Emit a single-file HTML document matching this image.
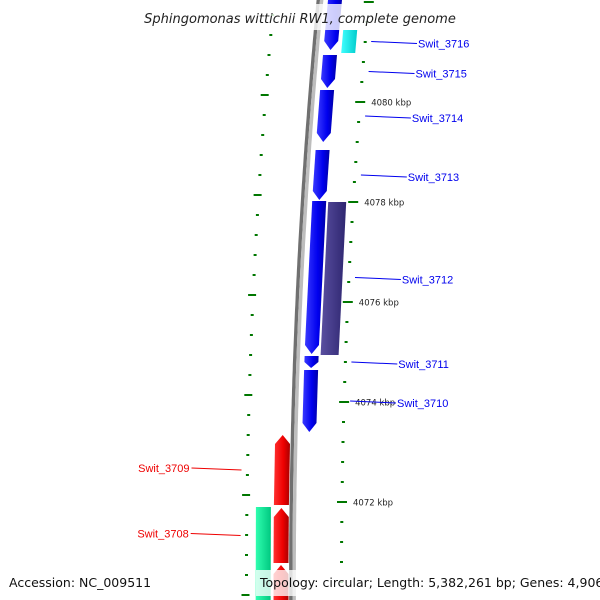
<!DOCTYPE html>
<html><head><meta charset="utf-8"><style>
html,body{margin:0;padding:0;background:#fff;}
svg{display:block;font-family:"Liberation Sans",sans-serif;}
</style></head><body>
<svg id="map" width="600" height="600" viewBox="0 0 600 600">
<defs>
<linearGradient id="gBlue" x1="0" x2="1"><stop offset="0" stop-color="#3a3aff"/><stop offset="0.6" stop-color="#0000ee"/><stop offset="1" stop-color="#0000a8"/></linearGradient>
<linearGradient id="gRed" x1="0" x2="1"><stop offset="0" stop-color="#ff3030"/><stop offset="0.6" stop-color="#ee0000"/><stop offset="1" stop-color="#a80000"/></linearGradient>
<linearGradient id="gCyan" x1="0" x2="1"><stop offset="0" stop-color="#40ffff"/><stop offset="1" stop-color="#00cccc"/></linearGradient>
<linearGradient id="gPurple" x1="0" x2="1"><stop offset="0" stop-color="#5a4fa0"/><stop offset="1" stop-color="#2e2670"/></linearGradient>
<linearGradient id="gGreen" x1="0" x2="1"><stop offset="0" stop-color="#30ffb0"/><stop offset="1" stop-color="#00c880"/></linearGradient>
</defs>
<g id="backbone"></g>
<g id="ticks"></g>
<g id="genes"></g>
<g id="labels"></g>
<rect x="134" y="4" width="332" height="26" fill="#fff" fill-opacity="0.8"/>
<text x="300" y="23" text-anchor="middle" font-size="13" font-style="italic" fill="#222" style="font-family:'DejaVu Sans',sans-serif">Sphingomonas wittichii RW1, complete genome</text>
<text x="9" y="587" font-size="12.5" fill="#111" style="font-family:'DejaVu Sans',sans-serif">Accession: NC_009511</text>
<rect x="256" y="570" width="340" height="26" fill="#fff" fill-opacity="0.78"/>
<text x="260" y="587" font-size="12.5" fill="#111" style="font-family:'DejaVu Sans',sans-serif">Topology: circular; Length: 5,382,261 bp; Genes: 4,906</text>
</svg>
<script>
// genome coordinates (kbp)
const majorTicks = [4082, 4080, 4078, 4076, 4074, 4072, 4070];
const majorTickLabels = ["", "4080 kbp", "4078 kbp", "4076 kbp", "4074 kbp", "4072 kbp", ""];
const geneNames = ["", "Swit_3715", "Swit_3714", "Swit_3713", "Swit_3712", "Swit_3711", "Swit_3710", "Swit_3716", "", "Swit_3709", "Swit_3708", "", ""];
const geneStarts = [4082.3, 4080.94, 4080.24, 4079.04, 4078.02, 4074.92, 4074.64, 4081.44, 4078.0, 4073.34, 4071.88, 4070.74, 4071.9];
const geneEnds   = [4081.04, 4080.28, 4079.2, 4078.04, 4074.96, 4074.68, 4073.4, 4080.98, 4074.94, 4071.94, 4070.78, 4069.6, 4069.6];
const geneTracks = ["blue","blue","blue","blue","blue","blue","blue","cyan","purple","red","red","red","green"];

const NS="http://www.w3.org/2000/svg";
function yOf(kbp){return 102+(4080-kbp)*50;}
function bx(y){return 320-0.095*y+0.000082*y*y;}
function pt(y,off){return (bx(y)+off).toFixed(1)+","+y.toFixed(1);}
const trackOff={blue:[8,22],cyan:[26,40],purple:[24,42],red:[-19,-4],green:[-37,-22]};
const trackFill={blue:"url(#gBlue)",cyan:"url(#gCyan)",purple:"url(#gPurple)",red:"url(#gRed)",green:"url(#gGreen)"};
const trackArrow={blue:"end",cyan:"none",purple:"none",red:"end",green:"none"};
const labelCol={blue:"#0000ee",cyan:"#0000ee",purple:"#0000ee",red:"#ee0000",green:"#ee0000"};

// backbone
const bb=document.getElementById('backbone');
[[-1.7,"#707070"],[1.7,"#bdbdbd"]].forEach((s,i)=>{
  let d="";for(let y=-5;y<=605;y+=5){d+=(y===-5?"M":"L")+pt(y,s[0]);}
  const p=document.createElementNS(NS,'path');
  p.setAttribute('d',d);p.setAttribute('fill','none');p.setAttribute('stroke',s[1]);p.setAttribute('stroke-width','3.4');
  
  
  bb.appendChild(p);
});

// ticks
const tg=document.getElementById('ticks');
function tick(y,o1,o2,w){
  const l=document.createElementNS(NS,'line');
  l.setAttribute('x1',(bx(y)+o1).toFixed(1));l.setAttribute('x2',(bx(y)+o2).toFixed(1));
  l.setAttribute('y1',y);l.setAttribute('y2',y);l.setAttribute('stroke','#007700');l.setAttribute('stroke-width',w);
  
  
  tg.appendChild(l);
}
for(let k=majorTicks[0]*10;k>=majorTicks[majorTicks.length-1]*10-10;k-=4){
  const kb=k/10, y=yOf(kb), isMaj=Math.abs(kb-Math.round(kb))<1e-6 && Math.round(kb)%2===0;
  if(y<-5||y>605) continue;
  if(isMaj){tick(y,44,54,2);tick(y-7,-51,-43,2);}
  else{tick(y,47.5,50.5,2);tick(y-7,-47.5,-44.5,2);}
}
majorTicks.forEach((k,i)=>{
  if(!majorTickLabels[i]) return;
  const y=yOf(k);
  const t=document.createElementNS(NS,'text');
  t.setAttribute('x',(bx(y)+60).toFixed(1));t.setAttribute('y',y+3.5);
  t.setAttribute('font-size','8.5');t.setAttribute('fill','#222');
  t.setAttribute('style',"font-family:'DejaVu Sans',sans-serif");
  
  
  t.textContent=majorTickLabels[i];tg.appendChild(t);
});

// genes
const gg=document.getElementById('genes'), lg=document.getElementById('labels');
geneStarts.forEach((s,i)=>{
  const tr=geneTracks[i],[o1,o2]=trackOff[tr];
  const y1=yOf(s),y2=yOf(geneEnds[i]),mid=(o1+o2)/2;
  const top=Math.min(y1,y2),bot=Math.max(y1,y2);
  let pts;
  if(trackArrow[tr]==="end"){
    const h=Math.min(9,(bot-top)/2);
    if(tr==="red"){
      pts=[pt(top,mid),pt(top+h,o2),pt(bot,o2),pt(bot,o1),pt(top+h,o1)];
    }else{
      pts=[pt(top,o1),pt(top,o2),pt(bot-h,o2),pt(bot,mid),pt(bot-h,o1)];
    }
  }else{
    pts=[pt(top,o1),pt(top,o2),pt(bot,o2),pt(bot,o1)];
  }
  const p=document.createElementNS(NS,'polygon');
  p.setAttribute('points',pts.join(' '));p.setAttribute('fill',trackFill[tr]);
  
  
  gg.appendChild(p);
  if(geneNames[i]){
    const yc=(y1+y2)/2, right=o1>0;
    const ly=yc+(right?2:-2);
    const l=document.createElementNS(NS,'line');
    if(right){l.setAttribute('x1',(bx(yc)+55).toFixed(1));l.setAttribute('x2',(bx(ly)+101).toFixed(1));}
    else{l.setAttribute('x1',(bx(yc)-52).toFixed(1));l.setAttribute('x2',(bx(ly)-102).toFixed(1));}
    l.setAttribute('y1',yc.toFixed(1));l.setAttribute('y2',ly.toFixed(1));
    l.setAttribute('stroke',labelCol[tr]);l.setAttribute('stroke-width','1');
    
    
    lg.appendChild(l);
    const t=document.createElementNS(NS,'text');
    t.setAttribute('x',(right?bx(ly)+102:bx(ly)-104).toFixed(1));t.setAttribute('y',(ly+4).toFixed(1));
    t.setAttribute('text-anchor',right?'start':'end');
    t.setAttribute('font-size','11');t.setAttribute('fill',labelCol[tr]);
    
    
    t.textContent=geneNames[i];lg.appendChild(t);
  }
});
</script>
</body></html>
